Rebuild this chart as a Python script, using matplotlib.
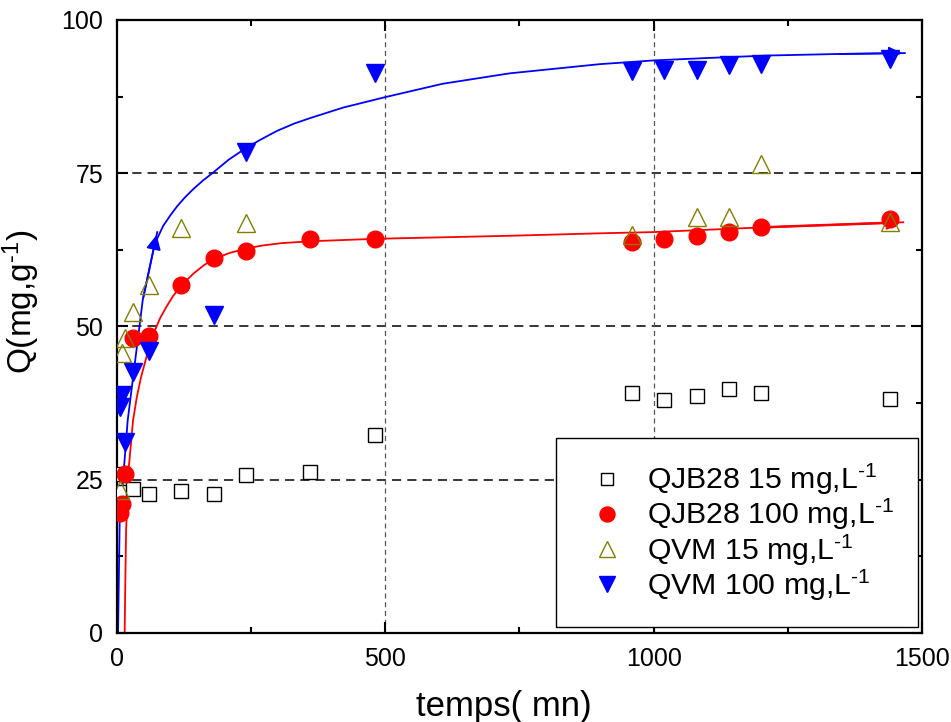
# -*- coding: utf-8 -*-
"""
Cinetique d'adsorption : Q en fonction du temps pour QJB28 et QVM
a 15 et 100 mg/L, avec les courbes d'ajustement.
"""
import matplotlib
matplotlib.use('Agg')
import matplotlib.pyplot as plt
from matplotlib.ticker import MultipleLocator

# Police type Arial
plt.rcParams['font.family'] = ['Liberation Sans', 'DejaVu Sans']
plt.rcParams['mathtext.fontset'] = 'custom'
plt.rcParams['mathtext.rm'] = 'Liberation Sans'
plt.rcParams['mathtext.default'] = 'regular'

# QJB28 15 mg/L
t_jb15 = [5, 10, 30, 60, 120, 180, 240, 360, 480, 960, 1020, 1080, 1140, 1200, 1440]
q_jb15 = [23.0, 26.0, 23.5, 22.6, 23.2, 22.7, 25.8, 26.3, 32.3, 39.2, 38.0, 38.7,
          39.8, 39.2, 38.2]

# QJB28 100 mg/L
t_jb100 = [5, 10, 15, 30, 60, 120, 180, 240, 360, 480, 960, 1020, 1080, 1140, 1200, 1440]
q_jb100 = [19.6, 21.0, 26.0, 48.2, 48.4, 56.8, 61.2, 62.3, 64.3, 64.3, 63.8, 64.3,
           64.8, 65.4, 66.2, 67.5]

# QVM 15 mg/L
t_vm15 = [5, 10, 15, 30, 60, 120, 240, 960, 1080, 1140, 1200, 1440]
q_vm15 = [23.3, 45.7, 48.1, 52.4, 56.8, 66.1, 66.9, 65.0, 67.9, 67.9, 76.5, 67.0]

# QVM 100 mg/L
t_vm100 = [5, 10, 15, 30, 60, 180, 240, 480, 960, 1020, 1080, 1140, 1200, 1440]
q_vm100 = [36.9, 38.8, 31.2, 42.6, 46.0, 51.9, 78.5, 91.4, 91.6, 91.9, 91.9, 92.7,
           92.8, 93.6]

# courbes d'ajustement
t_fit_vm_a = [2, 5, 20, 48, 75]
q_fit_vm_a = [0.0, 18.0, 34.7, 54.3, 65.4]
t_fit_vm_b = [71, 86, 100, 112, 126, 142, 160, 179, 208, 240, 268, 298, 330, 360,
              421, 499, 607, 732, 900, 999, 1100, 1211, 1340, 1468]
q_fit_vm_b = [63.6, 66.4, 68.2, 69.6, 71.0, 72.4, 73.8, 75.1, 77.2, 79.1, 80.5,
              81.9, 83.1, 84.0, 85.7, 87.4, 89.6, 91.3, 92.8, 93.4, 93.8, 94.2,
              94.45, 94.6]
t_fit_jb = [14, 15.5, 17, 22, 30, 37, 45, 58, 68, 80, 92, 104, 119, 142, 162, 180,
            210, 240, 270, 307, 360, 481, 732, 900, 999, 1211, 1465]
q_fit_jb = [-2.0, 8.0, 16.8, 27.0, 34.7, 38.5, 41.8, 46.0, 48.8, 51.3, 53.2, 54.9,
            56.6, 58.6, 60.0, 61.0, 62.0, 62.7, 63.2, 63.6, 63.9, 64.3, 64.8, 65.2,
            65.4, 66.2, 67.0]

fig = plt.figure(figsize=(9.51, 7.22), dpi=100)
ax = fig.add_axes([0.123, 0.1233, 0.8465, 0.849])

# grille
for y in [25, 50, 75]:
    ax.axhline(y, color='black', lw=1.1, ls=(0, (6, 4)), zorder=1)
for x in [500, 1000]:
    ax.axvline(x, color='#555555', lw=0.9, ls=(0, (4, 3)), zorder=1)

# courbes
ax.plot(t_fit_vm_a, q_fit_vm_a, color='blue', lw=1.3, zorder=2)
ax.plot(t_fit_vm_b, q_fit_vm_b, color='blue', lw=1.3, zorder=2)
ax.plot(t_fit_jb, q_fit_jb, color='red', lw=1.3, zorder=2)

# fleches au bout des courbes
ax.annotate('', xy=(t_fit_vm_a[-1], q_fit_vm_a[-1]), xytext=(t_fit_vm_a[-2], q_fit_vm_a[-2]),
            arrowprops=dict(arrowstyle='-|>', color='blue', lw=1.3, mutation_scale=22))
ax.annotate('', xy=(t_fit_vm_b[-1], q_fit_vm_b[-1]), xytext=(t_fit_vm_b[-2], q_fit_vm_b[-2]),
            arrowprops=dict(arrowstyle='-|>', color='blue', lw=1.3, mutation_scale=20))
ax.annotate('', xy=(t_fit_jb[-1], q_fit_jb[-1]), xytext=(t_fit_jb[-2], q_fit_jb[-2]),
            arrowprops=dict(arrowstyle='->', color='red', lw=1.8, mutation_scale=20))

# points
ax.plot(t_jb15, q_jb15, 's', ms=10, mfc='white', mec='black', mew=1.0,
        label='QJB28 15 mg,L$^{\u2010 1}$', zorder=3)
ax.plot(t_jb100, q_jb100, 'o', ms=12, mfc='red', mec='red',
        label='QJB28 100 mg,L$^{\u2010 1}$', zorder=3)
ax.plot(t_vm15, q_vm15, '^', ms=13, mfc='none', mec='#808000', mew=1.0,
        label='QVM 15 mg,L$^{\u2010 1}$', zorder=4)
ax.plot(t_vm100, q_vm100, 'v', ms=13, mfc='blue', mec='blue',
        label='QVM 100 mg,L$^{\u2010 1}$', zorder=3)

ax.set_xlim(0, 1500)
ax.set_ylim(0, 100)
ax.xaxis.set_major_locator(MultipleLocator(500))
ax.xaxis.set_minor_locator(MultipleLocator(250))
ax.yaxis.set_major_locator(MultipleLocator(25))
ax.yaxis.set_minor_locator(MultipleLocator(12.5))
ax.tick_params(which='both', direction='in', top=True, right=True,
               labelsize=18, width=1.5, pad=10)
ax.tick_params(which='major', length=8)
ax.tick_params(which='minor', length=4)
for s in ax.spines.values():
    s.set_linewidth(1.6)

ax.set_xlabel('temps( mn)', fontsize=25)
ax.set_ylabel('Q(mg,g$^{\u2010 1}$)', fontsize=24)
ax.xaxis.set_label_coords(0.48, -0.093)
ax.yaxis.set_label_coords(-0.093, 0.54)

leg = ax.legend(loc='lower right', bbox_to_anchor=(0.995, 0.0098), fontsize=21.8,
                frameon=True, fancybox=False, edgecolor='black', framealpha=1,
                markerscale=0.9, handletextpad=0.4, labelspacing=0.0,
                borderpad=0.8, handlelength=1.8, borderaxespad=0)
leg.get_frame().set_linewidth(1.0)

plt.savefig('out.png', dpi=100)
